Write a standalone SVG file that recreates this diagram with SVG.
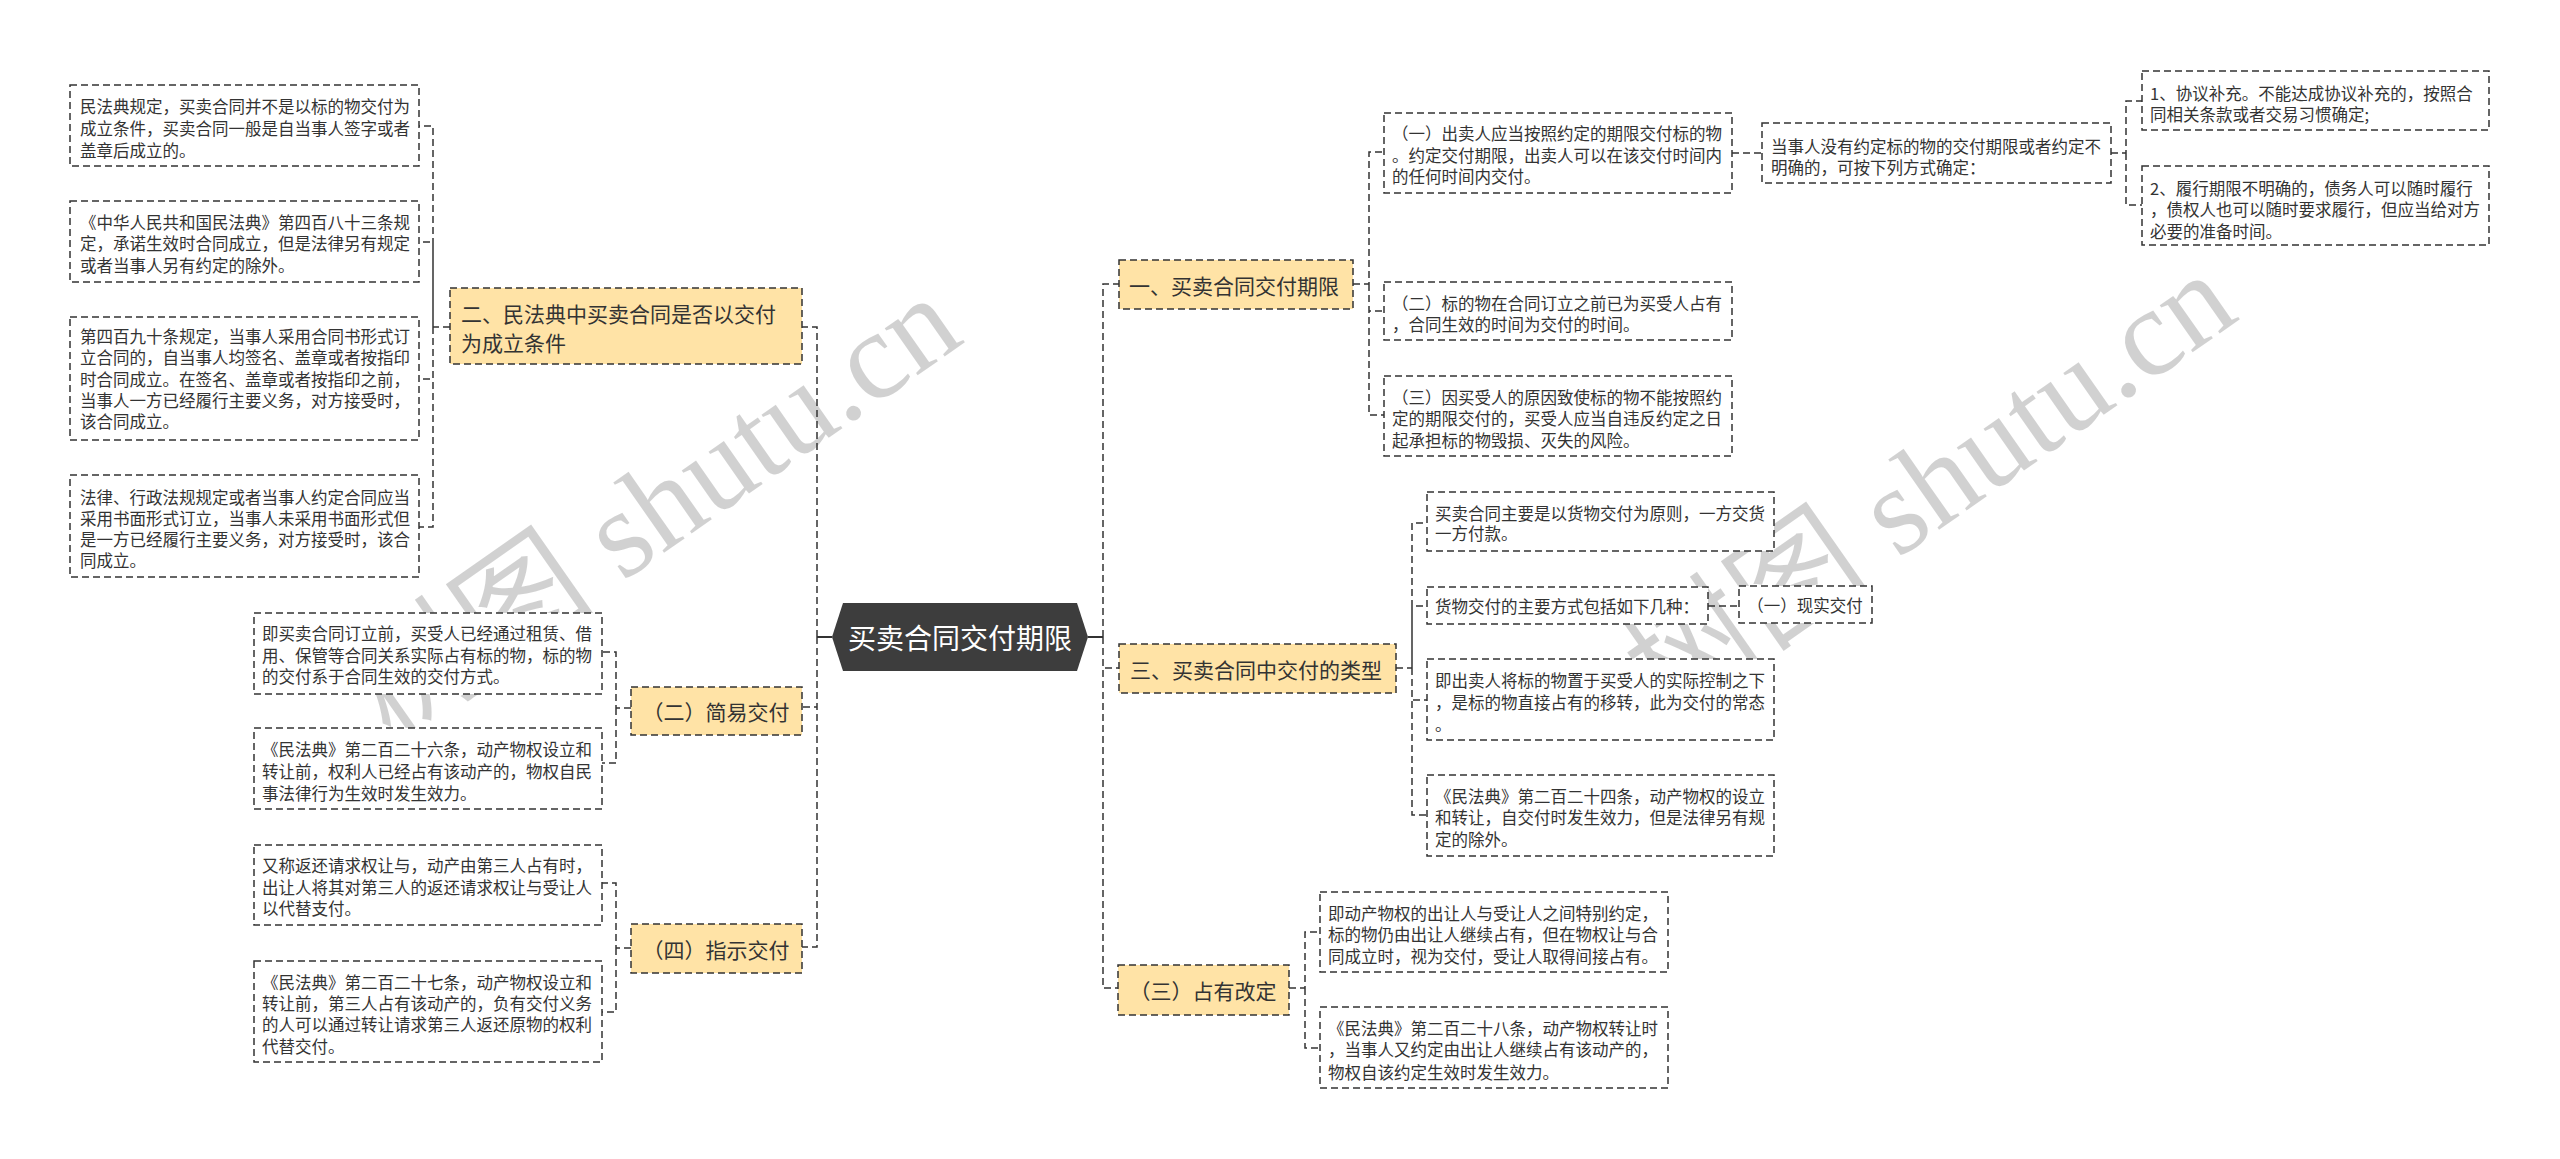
<svg xmlns="http://www.w3.org/2000/svg" width="2560" height="1159" viewBox="0 0 2560 1159">
<style>
.bx{fill:#fff;stroke:#333;stroke-width:1.5;stroke-dasharray:7 4}
.tp{fill:#FFE3A6;stroke:#333;stroke-width:1.5;stroke-dasharray:7 4}
.cn{fill:none;stroke:#333;stroke-width:1.5;stroke-dasharray:7 4}
.sl{fill:none;stroke:#333;stroke-width:2}
.t{font-family:"Noto Sans CJK SC","Noto Sans",sans-serif;font-size:16.5px;fill:#333;dominant-baseline:central}
.tt{font-family:"Noto Sans CJK SC","Noto Sans",sans-serif;font-size:21px;fill:#333;dominant-baseline:central}
.wm{font-family:"Liberation Serif","Noto Sans CJK SC",serif;font-size:125px;fill:#000;fill-opacity:0.18}
</style>
<rect width="2560" height="1159" fill="#fff"/>
<g id="watermarks">
<text class="wm" x="655" y="508" text-anchor="middle" dominant-baseline="central" transform="rotate(-35 655 508)">树图 shutu.cn</text>
<text class="wm" x="1930" y="485" text-anchor="middle" dominant-baseline="central" transform="rotate(-35 1930 485)">树图 shutu.cn</text>
</g>
<g id="connectors">
<path class="sl" d="M832,637 H817 M1088,637 H1103"/>
<path class="cn" d="M817,637 V327 H802 M817,637 V707 H802 M817,637 V947 H802"/>
<path class="cn" d="M450,327 H433 V126 H419 M433,327 V242 H419 M433,327 V379 H419 M433,327 V527 H419"/>
<path class="cn" d="M631,708 H616 V652 H602 M616,708 V763 H602"/>
<path class="cn" d="M631,948 H616 V883 H602 M616,948 V1012 H602"/>
<path class="cn" d="M1103,637 V284 H1119 M1103,637 V668 H1119 M1103,637 V988 H1118"/>
<path class="cn" d="M1353,284 H1369 V152 H1384 M1369,284 V311 H1384 M1369,284 V415 H1384"/>
<path class="cn" d="M1732,153 H1762"/>
<path class="cn" d="M2111,153 H2126 V101 H2142 M2126,153 V205 H2142"/>
<path class="cn" d="M1396,668 H1412 V523 H1427 M1412,668 V606 H1427 M1412,668 V700 H1427 M1412,668 V815 H1427"/>
<path class="cn" d="M1708,606 H1739"/>
<path class="cn" d="M1289,988 H1305 V932 H1320 M1305,988 V1048 H1320"/>
</g>
<g id="center">
<polygon points="832,637 843,603 1077,603 1088,637 1077,671 843,671" fill="#3d3d3d"/>
<text x="960" y="637" text-anchor="middle" dominant-baseline="central" font-family="Noto Sans CJK SC, sans-serif" font-size="28" fill="#fff">买卖合同交付期限</text>
</g>
<g id="n-er">
<rect class="tp" x="450" y="288" width="352" height="76"/>
<text class="tt" x="461" y="313">二、民法典中买卖合同是否以交付</text>
<text class="tt" x="461" y="342">为成立条件</text>
</g>
<g id="n-l1">
<rect class="bx" x="70" y="85" width="349" height="81"/>
<text class="t" x="80" y="106">民法典规定，买卖合同并不是以标的物交付为</text>
<text class="t" x="80" y="128">成立条件，买卖合同一般是自当事人签字或者</text>
<text class="t" x="80" y="150">盖章后成立的。</text>
</g>
<g id="n-l2">
<rect class="bx" x="70" y="201" width="349" height="81"/>
<text class="t" x="80" y="222">《中华人民共和国民法典》第四百八十三条规</text>
<text class="t" x="80" y="243">定，承诺生效时合同成立，但是法律另有规定</text>
<text class="t" x="80" y="265">或者当事人另有约定的除外。</text>
</g>
<g id="n-l3">
<rect class="bx" x="70" y="317" width="349" height="123"/>
<text class="t" x="80" y="336">第四百九十条规定，当事人采用合同书形式订</text>
<text class="t" x="80" y="357">立合同的，自当事人均签名、盖章或者按指印</text>
<text class="t" x="80" y="379">时合同成立。在签名、盖章或者按指印之前，</text>
<text class="t" x="80" y="400">当事人一方已经履行主要义务，对方接受时，</text>
<text class="t" x="80" y="421">该合同成立。</text>
</g>
<g id="n-l4">
<rect class="bx" x="70" y="475" width="349" height="102"/>
<text class="t" x="80" y="497">法律、行政法规规定或者当事人约定合同应当</text>
<text class="t" x="80" y="518">采用书面形式订立，当事人未采用书面形式但</text>
<text class="t" x="80" y="539">是一方已经履行主要义务，对方接受时，该合</text>
<text class="t" x="80" y="560">同成立。</text>
</g>
<g id="n-jianyi">
<rect class="tp" x="631" y="687" width="171" height="48"/>
<text class="tt" x="716" y="711" text-anchor="middle">（二）简易交付</text>
</g>
<g id="n-ja">
<rect class="bx" x="254" y="613" width="348" height="81"/>
<text class="t" x="262" y="633">即买卖合同订立前，买受人已经通过租赁、借</text>
<text class="t" x="262" y="655">用、保管等合同关系实际占有标的物，标的物</text>
<text class="t" x="262" y="676">的交付系于合同生效的交付方式。</text>
</g>
<g id="n-jb">
<rect class="bx" x="254" y="728" width="348" height="81"/>
<text class="t" x="262" y="749">《民法典》第二百二十六条，动产物权设立和</text>
<text class="t" x="262" y="771">转让前，权利人已经占有该动产的，物权自民</text>
<text class="t" x="262" y="793">事法律行为生效时发生效力。</text>
</g>
<g id="n-zhishi">
<rect class="tp" x="631" y="924" width="171" height="49"/>
<text class="tt" x="716" y="949" text-anchor="middle">（四）指示交付</text>
</g>
<g id="n-zc">
<rect class="bx" x="254" y="845" width="348" height="80"/>
<text class="t" x="262" y="865">又称返还请求权让与，动产由第三人占有时，</text>
<text class="t" x="262" y="887">出让人将其对第三人的返还请求权让与受让人</text>
<text class="t" x="262" y="908">以代替支付。</text>
</g>
<g id="n-zd">
<rect class="bx" x="254" y="961" width="348" height="101"/>
<text class="t" x="262" y="982">《民法典》第二百二十七条，动产物权设立和</text>
<text class="t" x="262" y="1003">转让前，第三人占有该动产的，负有交付义务</text>
<text class="t" x="262" y="1024">的人可以通过转让请求第三人返还原物的权利</text>
<text class="t" x="262" y="1046">代替交付。</text>
</g>
<g id="n-yi">
<rect class="tp" x="1119" y="260" width="234" height="49"/>
<text class="tt" x="1129" y="285">一、买卖合同交付期限</text>
</g>
<g id="n-r1a">
<rect class="bx" x="1384" y="113" width="348" height="80"/>
<text class="t" x="1392" y="133">（一）出卖人应当按照约定的期限交付标的物</text>
<text class="t" x="1392" y="155">。约定交付期限，出卖人可以在该交付时间内</text>
<text class="t" x="1392" y="176">的任何时间内交付。</text>
</g>
<g id="n-r1b">
<rect class="bx" x="1384" y="282" width="348" height="58"/>
<text class="t" x="1392" y="303">（二）标的物在合同订立之前已为买受人占有</text>
<text class="t" x="1392" y="324">，合同生效的时间为交付的时间。</text>
</g>
<g id="n-r1c">
<rect class="bx" x="1384" y="376" width="348" height="80"/>
<text class="t" x="1392" y="397">（三）因买受人的原因致使标的物不能按照约</text>
<text class="t" x="1392" y="418">定的期限交付的，买受人应当自违反约定之日</text>
<text class="t" x="1392" y="440">起承担标的物毁损、灭失的风险。</text>
</g>
<g id="n-dang">
<rect class="bx" x="1762" y="123" width="349" height="60"/>
<text class="t" x="1771" y="146">当事人没有约定标的物的交付期限或者约定不</text>
<text class="t" x="1771" y="167">明确的，可按下列方式确定：</text>
</g>
<g id="n-d1">
<rect class="bx" x="2142" y="71" width="347" height="59"/>
<text class="t" x="2150" y="93">1、协议补充。不能达成协议补充的，按照合</text>
<text class="t" x="2150" y="114">同相关条款或者交易习惯确定;</text>
</g>
<g id="n-d2">
<rect class="bx" x="2142" y="166" width="347" height="79"/>
<text class="t" x="2150" y="188">2、履行期限不明确的，债务人可以随时履行</text>
<text class="t" x="2150" y="209">，债权人也可以随时要求履行，但应当给对方</text>
<text class="t" x="2150" y="231">必要的准备时间。</text>
</g>
<g id="n-san">
<rect class="tp" x="1119" y="644" width="277" height="49"/>
<text class="tt" x="1130" y="669">三、买卖合同中交付的类型</text>
</g>
<g id="n-r3a">
<rect class="bx" x="1427" y="492" width="347" height="59"/>
<text class="t" x="1435" y="513">买卖合同主要是以货物交付为原则，一方交货</text>
<text class="t" x="1435" y="533">一方付款。</text>
</g>
<g id="n-r3b">
<rect class="bx" x="1427" y="587" width="281" height="37"/>
<text class="t" x="1435" y="606">货物交付的主要方式包括如下几种：</text>
</g>
<g id="n-xianshi">
<rect class="bx" x="1739" y="586" width="133" height="37"/>
<text class="t" x="1805" y="605" text-anchor="middle">（一）现实交付</text>
</g>
<g id="n-r3c">
<rect class="bx" x="1427" y="659" width="347" height="81"/>
<text class="t" x="1435" y="680">即出卖人将标的物置于买受人的实际控制之下</text>
<text class="t" x="1435" y="702">，是标的物直接占有的移转，此为交付的常态</text>
<text class="t" x="1435" y="724">。</text>
</g>
<g id="n-r3d">
<rect class="bx" x="1427" y="775" width="347" height="81"/>
<text class="t" x="1435" y="796">《民法典》第二百二十四条，动产物权的设立</text>
<text class="t" x="1435" y="817">和转让，自交付时发生效力，但是法律另有规</text>
<text class="t" x="1435" y="839">定的除外。</text>
</g>
<g id="n-zhanyou">
<rect class="tp" x="1118" y="965" width="171" height="50"/>
<text class="tt" x="1203" y="990" text-anchor="middle">（三）占有改定</text>
</g>
<g id="n-r4a">
<rect class="bx" x="1320" y="892" width="348" height="80"/>
<text class="t" x="1328" y="913">即动产物权的出让人与受让人之间特别约定，</text>
<text class="t" x="1328" y="934">标的物仍由出让人继续占有，但在物权让与合</text>
<text class="t" x="1328" y="956">同成立时，视为交付，受让人取得间接占有。</text>
</g>
<g id="n-r4b">
<rect class="bx" x="1320" y="1007" width="348" height="81"/>
<text class="t" x="1328" y="1028">《民法典》第二百二十八条，动产物权转让时</text>
<text class="t" x="1328" y="1049">，当事人又约定由出让人继续占有该动产的，</text>
<text class="t" x="1328" y="1072">物权自该约定生效时发生效力。</text>
</g>
</svg>
